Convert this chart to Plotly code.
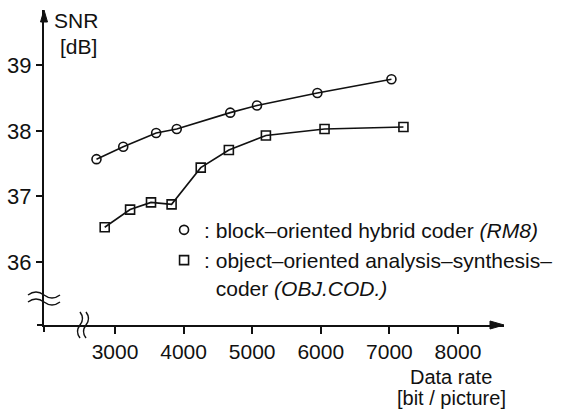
import plotly.graph_objects as go

# Data
rm8_rate = [2730, 3120, 3600, 3900, 4680, 5070, 5950, 7030]
rm8_snr = [37.57, 37.76, 37.97, 38.03, 38.28, 38.39, 38.58, 38.79]
obj_rate = [2850, 3220, 3525, 3825, 4250, 4660, 5200, 6055, 7205]
obj_snr = [36.53, 36.80, 36.91, 36.88, 37.44, 37.71, 37.93, 38.03, 38.06]

x_ticks = [3000, 4000, 5000, 6000, 7000, 8000]
y_ticks = [36, 37, 38, 39]

rm8_name = ":\u00a0block\u2013oriented hybrid coder <i>(RM8)</i>"
obj_name = (":\u00a0object\u2013oriented analysis\u2013synthesis\u2013<br>"
            "\u00a0\u00a0coder <i>(OBJ.COD.)</i>")

FONT = "Liberation Sans, Arial, Helvetica, sans-serif"
BLACK = "#111111"

fig = go.Figure()

# connecting lines
fig.add_trace(go.Scatter(x=rm8_rate, y=rm8_snr, mode="lines",
                         line=dict(color=BLACK, width=1.6), showlegend=False,
                         hoverinfo="skip"))
fig.add_trace(go.Scatter(x=obj_rate, y=obj_snr, mode="lines",
                         line=dict(color=BLACK, width=1.6), showlegend=False,
                         hoverinfo="skip"))
# markers (legend entries)
fig.add_trace(go.Scatter(x=rm8_rate, y=rm8_snr, mode="markers", name=rm8_name,
                         marker=dict(symbol="circle-open", size=9, color=BLACK,
                                     line=dict(width=1.6, color=BLACK))))
fig.add_trace(go.Scatter(x=obj_rate, y=obj_snr, mode="markers", name=obj_name,
                         marker=dict(symbol="square-open", size=9, color=BLACK,
                                     line=dict(width=1.6, color=BLACK))))

shapes = []
# y axis arrowhead
shapes.append(dict(type="path", xref="paper", yref="paper", xsizemode="pixel",
                   ysizemode="pixel", xanchor=0, yanchor=1,
                   path="M -3.5 -12 L 0 0 L 3.5 -12 Z",
                   fillcolor=BLACK, line=dict(color=BLACK, width=1)))
# x axis arrowhead
shapes.append(dict(type="path", xref="paper", yref="paper", xsizemode="pixel",
                   ysizemode="pixel", xanchor=1, yanchor=0,
                   path="M -14 4 L 0 0 L -14 -4 Z",
                   fillcolor=BLACK, line=dict(color=BLACK, width=1)))
# axis overhangs at the origin corner
shapes.append(dict(type="path", xref="paper", yref="paper", xsizemode="pixel",
                   ysizemode="pixel", xanchor=0, yanchor=0,
                   path="M -7 0 L 0 0 M 0 0 L 0 -7",
                   line=dict(color=BLACK, width=2)))
# y-axis break (≈)
for off in (30, 23):
    shapes.append(dict(type="path", xref="paper", yref="paper", xsizemode="pixel",
                       ysizemode="pixel", xanchor=0, yanchor=0,
                       path=f"M -16 {off} Q -8 {off+6} 0 {off} T 16 {off}",
                       line=dict(color=BLACK, width=1.5)))
# x-axis break
for off in (36, 42):
    shapes.append(dict(type="path", xref="paper", yref="paper", xsizemode="pixel",
                       ysizemode="pixel", xanchor=0, yanchor=0,
                       path=f"M {off} 13 Q {off+5} 6.5 {off} 0 T {off} -13",
                       line=dict(color=BLACK, width=1.5)))

def lab(text, x, y, size):
    return dict(text=text, xref="paper", yref="paper", x=x, y=y, xanchor="center",
                yanchor="middle", showarrow=False,
                font=dict(size=size, family=FONT, color=BLACK))

annotations = [
    lab("SNR", 0.0696, 0.968, 21),
    lab("[dB]", 0.0750, 0.884, 21),
    lab("Data rate", 0.8848, -0.165, 20),
    lab("[bit / picture]", 0.8848, -0.232, 20),
]

fig.update_layout(
    width=562, height=412,
    margin=dict(l=44, r=58, t=10, b=87, pad=0, autoexpand=False),
    paper_bgcolor="white", plot_bgcolor="white",
    font=dict(family=FONT, size=20, color=BLACK),
    shapes=shapes, annotations=annotations,
    showlegend=True,
    legend=dict(x=0.261, y=0.366, xanchor="left", yanchor="top", valign="top",
                bgcolor="rgba(0,0,0,0)", font=dict(size=21, family=FONT, color=BLACK),
                tracegroupgap=0, itemwidth=30),
    xaxis=dict(range=[1965, 8671], showgrid=False, zeroline=False,
               showline=True, linecolor=BLACK, linewidth=2,
               ticks="outside", ticklen=7, tickwidth=1.5, tickcolor=BLACK,
               tickvals=x_ticks, ticktext=[str(v) for v in x_ticks],
               tickfont=dict(size=21, family=FONT, color=BLACK)),
    yaxis=dict(range=[35.038, 39.847], showgrid=False, zeroline=False,
               showline=True, linecolor=BLACK, linewidth=2,
               ticks="outside", ticklen=6, tickwidth=1.5, tickcolor=BLACK,
               tickvals=y_ticks, ticktext=[str(v) for v in y_ticks],
               tickfont=dict(size=22, family=FONT, color=BLACK)),
)

fig.write_html("out.html")
